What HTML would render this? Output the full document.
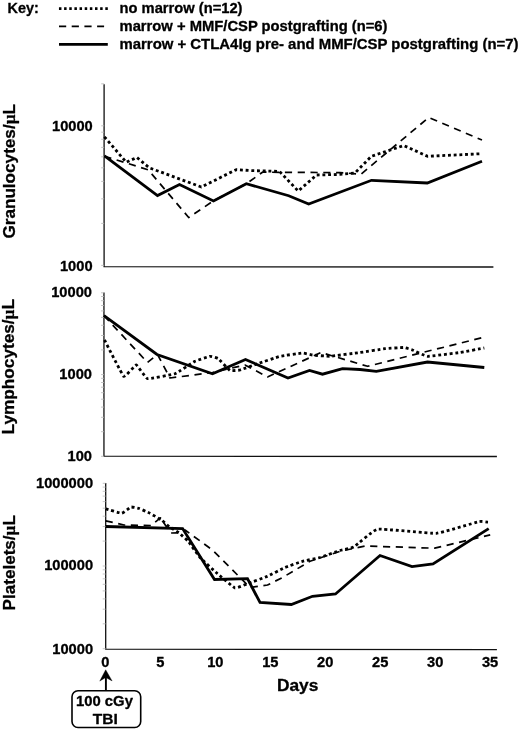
<!DOCTYPE html>
<html lang="en"><head><meta charset="utf-8"><title>Figure</title>
<style>html,body{margin:0;padding:0;background:#fff}svg{display:block;will-change:transform;opacity:.9999}text{font-family:"Liberation Sans",Arial,Helvetica,sans-serif;font-weight:bold;fill:#000;stroke:#000;stroke-width:.3px;stroke-linejoin:round}</style></head><body>
<svg width="520" height="730" viewBox="0 0 520 730" role="img" aria-label="Granulocyte, lymphocyte and platelet counts over days after 100 cGy TBI">
<rect width="520" height="730" fill="#fff"/>
<g id="legend">
<text x="7.5" y="13" font-size="14.2" textLength="31.3" lengthAdjust="spacingAndGlyphs">Key:</text>
<path d="M58.95,8.65 H107.9" fill="none" stroke="#000" stroke-width="2.7" stroke-dasharray="2.5 2.65"/>
<path d="M59,26.3 H104.1" fill="none" stroke="#000" stroke-width="1.8" stroke-dasharray="7.2 5.5"/>
<path d="M59,44.3 H107.8" fill="none" stroke="#000" stroke-width="2.8"/>
<text x="119.5" y="13" font-size="14.2" textLength="123" lengthAdjust="spacingAndGlyphs">no marrow (n=12)</text>
<text x="119.5" y="30.6" font-size="14.2" textLength="268" lengthAdjust="spacingAndGlyphs">marrow + MMF/CSP postgrafting (n=6)</text>
<text x="119.5" y="48.8" font-size="14.2" textLength="399" lengthAdjust="spacingAndGlyphs">marrow + CTLA4Ig pre- and MMF/CSP postgrafting (n=7)</text>
</g>
<g id="axes">
<path d="M104.1,84.2 V266.7 L493.4,267.0" fill="none" stroke="#111" stroke-width="1.3"/>
<path d="M103.95,292.6 V456.15 L496.9,456.5" fill="none" stroke="#111" stroke-width="1.3"/>
<path d="M105.7,483.0 V649.1 L496.9,649.7" fill="none" stroke="#111" stroke-width="1.3"/>
<path d="M101.2,125.8 H104.2 M101.2,83.8 H104.2 M101.2,265.4 H104.2 M101.2,223.4 H104.2 M101.2,198.8 H104.2 M101.2,181.4 H104.2 M101.2,167.8 H104.2 M101.2,156.8 H104.2 M101.2,147.4 H104.2 M101.2,139.3 H104.2 M101.2,132.2 H104.2" stroke="#b5b5b5" stroke-width="0.8" fill="none"/>
<path d="M101.0,292.8 H104.0 M101.0,374.6 H104.0 M101.0,349.9 H104.0 M101.0,335.5 H104.0 M101.0,325.3 H104.0 M101.0,317.4 H104.0 M101.0,310.9 H104.0 M101.0,305.5 H104.0 M101.0,300.7 H104.0 M101.0,296.5 H104.0 M101.0,456.3 H104.0 M101.0,431.7 H104.0 M101.0,417.3 H104.0 M101.0,407.1 H104.0 M101.0,399.2 H104.0 M101.0,392.7 H104.0 M101.0,387.2 H104.0 M101.0,382.5 H104.0 M101.0,378.3 H104.0" stroke="#b5b5b5" stroke-width="0.8" fill="none"/>
<path d="M102.7,483.3 H105.7 M102.7,566.0 H105.7 M102.7,541.1 H105.7 M102.7,526.5 H105.7 M102.7,516.2 H105.7 M102.7,508.2 H105.7 M102.7,501.6 H105.7 M102.7,496.1 H105.7 M102.7,491.3 H105.7 M102.7,487.1 H105.7 M102.7,648.7 H105.7 M102.7,623.8 H105.7 M102.7,609.2 H105.7 M102.7,598.9 H105.7 M102.7,590.9 H105.7 M102.7,584.3 H105.7 M102.7,578.8 H105.7 M102.7,574.0 H105.7 M102.7,569.8 H105.7" stroke="#b5b5b5" stroke-width="0.8" fill="none"/>
</g>
<g id="y-tick-labels">
<text x="52.00" y="130.8" font-size="14.2" textLength="40.75" lengthAdjust="spacingAndGlyphs">10000</text>
<text x="59.95" y="270.8" font-size="14.2" textLength="32.60" lengthAdjust="spacingAndGlyphs">1000</text>
<text x="51.20" y="296.6" font-size="14.2" textLength="40.75" lengthAdjust="spacingAndGlyphs">10000</text>
<text x="59.35" y="378.5" font-size="14.2" textLength="32.60" lengthAdjust="spacingAndGlyphs">1000</text>
<text x="67.50" y="460.5" font-size="14.2" textLength="24.45" lengthAdjust="spacingAndGlyphs">100</text>
<text x="36.00" y="487.6" font-size="14.2" textLength="57.05" lengthAdjust="spacingAndGlyphs">1000000</text>
<text x="44.15" y="570.4" font-size="14.2" textLength="48.90" lengthAdjust="spacingAndGlyphs">100000</text>
<text x="52.30" y="653.9" font-size="14.2" textLength="40.75" lengthAdjust="spacingAndGlyphs">10000</text>
</g>
<g id="y-axis-titles">
<text transform="translate(15.3,238.6) rotate(-90)" font-size="17" textLength="134.6" lengthAdjust="spacingAndGlyphs">Granulocytes/<tspan font-weight="bold" font-family="'Liberation Serif','DejaVu Serif',serif">µ</tspan>L</text>
<text transform="translate(14.1,434.4) rotate(-90)" font-size="17" textLength="135.4" lengthAdjust="spacingAndGlyphs">Lymphocytes/<tspan font-weight="bold" font-family="'Liberation Serif','DejaVu Serif',serif">µ</tspan>L</text>
<text transform="translate(14.9,610.4) rotate(-90)" font-size="17" textLength="95.3" lengthAdjust="spacingAndGlyphs">Platelets/<tspan font-weight="bold" font-family="'Liberation Serif','DejaVu Serif',serif">µ</tspan>L</text>
</g>
<g id="panel-granulocytes">
<path d="M104.40,136.80 L126.30,162.30 L136.80,157.40 L149.30,167.80 L201.30,187.00 L236.20,169.70 L252.00,170.60 L279.50,171.40 L298.20,191.00 L316.50,175.00 L340.00,174.40 L355.00,173.00 L371.30,156.30 L403.70,145.50 L427.50,156.30 L482.00,153.70" fill="none" stroke="#000" stroke-width="2.8" stroke-dasharray="2.9 2.8" stroke-linejoin="round"/>
<path d="M104.40,156.20 L148.20,169.80 L188.70,217.50 L213.70,200.70 L246.00,184.00 L262.50,172.20 L340.00,172.60 L361.00,174.20 L428.70,117.50 L482.00,140.00" fill="none" stroke="#000" stroke-width="1.7" stroke-dasharray="7.2 5.6" stroke-linejoin="round"/>
<path d="M104.50,155.80 L157.50,195.50 L179.50,184.50 L213.50,201.00 L246.30,183.70 L288.70,195.70 L308.70,204.00 L371.50,180.30 L427.30,183.00 L482.00,161.30" fill="none" stroke="#000" stroke-width="2.8" stroke-linejoin="miter" stroke-linecap="butt"/>
</g>
<g id="panel-lymphocytes">
<path d="M104.50,340.00 C105.27,341.45 122.43,375.30 123.70,376.30 C124.97,377.30 135.35,364.90 136.30,365.00 C137.25,365.10 145.95,378.35 147.50,378.70 C149.05,379.05 173.10,374.40 175.00,373.70 C176.90,373.00 193.60,362.00 195.00,361.30 C196.40,360.60 209.08,356.41 210.00,356.30 C210.92,356.19 217.20,357.93 218.00,358.50 C218.80,359.07 229.12,370.04 230.00,370.50 C230.88,370.96 238.90,370.27 240.00,370.00 C241.10,369.73 255.90,364.25 257.50,363.70 C259.10,363.15 278.20,356.73 280.00,356.30 C281.80,355.87 301.20,353.05 302.50,353.00 C303.80,352.95 311.40,354.87 312.50,355.00 C313.60,355.13 328.10,356.40 330.00,356.30 C331.90,356.20 357.80,352.80 360.00,352.50 C362.20,352.20 383.25,348.90 385.00,348.70 C386.75,348.50 402.60,347.45 403.70,347.50 C404.80,347.55 411.55,349.65 412.50,350.00 C413.45,350.35 425.60,356.20 427.50,356.30 C429.40,356.40 457.73,352.83 460.00,352.50 C462.27,352.17 483.33,348.18 484.30,348.00" fill="none" stroke="#000" stroke-width="2.8" stroke-dasharray="2.9 2.8" stroke-linejoin="round"/>
<path d="M104.00,315.70 L147.50,362.50 L157.50,354.50 L170.00,378.00 L212.50,372.50 L245.00,365.00 L267.50,377.00 L321.00,352.50 L367.50,366.30 L427.50,351.30 L485.00,337.00" fill="none" stroke="#000" stroke-width="1.7" stroke-dasharray="7.2 5.6" stroke-linejoin="round"/>
<path d="M104.00,315.70 L157.00,354.50 L212.50,373.70 L245.50,359.50 L288.00,378.00 L309.50,370.50 L322.50,374.20 L342.50,368.70 L360.00,369.50 L376.30,371.30 L427.50,362.00 L484.30,367.50" fill="none" stroke="#000" stroke-width="2.8" stroke-linejoin="miter" stroke-linecap="butt"/>
</g>
<g id="panel-platelets">
<path d="M105.70,508.80 C106.50,509.02 120.53,513.29 121.80,513.20 C123.06,513.11 130.12,507.24 131.00,507.00 C131.88,506.76 138.36,508.19 139.30,508.50 C140.25,508.81 148.79,512.72 149.90,513.30 C151.01,513.88 160.53,519.33 161.50,520.00 C162.47,520.67 168.33,526.07 169.20,526.70 C170.06,527.34 177.84,531.96 178.80,532.70 C179.76,533.44 187.34,540.26 188.40,541.50 C189.46,542.74 198.54,555.89 200.00,557.50 C201.46,559.11 215.75,572.18 217.50,573.70 C219.25,575.23 233.50,587.50 235.00,588.00 C236.50,588.50 245.88,584.29 247.50,583.70 C249.12,583.12 265.62,577.11 267.50,576.30 C269.38,575.49 283.25,568.25 285.00,567.50 C286.75,566.75 300.75,561.80 302.50,561.30 C304.25,560.80 318.12,558.04 320.00,557.50 C321.88,556.96 338.31,551.02 340.00,550.50 C341.69,549.98 351.92,548.07 353.80,547.00 C355.68,545.93 373.48,529.88 377.60,529.20 C381.73,528.52 431.23,533.68 436.30,533.30 C441.37,532.92 476.42,522.15 479.00,521.60 C481.58,521.05 487.55,522.17 488.00,522.20" fill="none" stroke="#000" stroke-width="2.8" stroke-dasharray="2.9 2.8" stroke-linejoin="round"/>
<path d="M105.70,520.80 L124.00,525.00 L151.00,525.50 L160.50,517.80 L170.50,533.00 L180.00,532.80 L185.00,530.00 L212.50,550.00 L230.00,567.50 L250.00,587.50 L267.50,585.00 L282.50,577.50 L310.00,561.30 L340.00,551.30 L364.90,546.00 L434.70,548.20 L490.20,534.90" fill="none" stroke="#000" stroke-width="1.7" stroke-dasharray="7.2 5.6" stroke-linejoin="round"/>
<path d="M105.70,526.50 L182.60,528.60 L214.50,579.50 L247.50,578.70 L260.00,602.50 L291.30,604.50 L312.50,596.30 L335.50,594.00 L380.00,555.50 L412.00,566.60 L433.00,564.00 L488.70,528.60" fill="none" stroke="#000" stroke-width="2.8" stroke-linejoin="miter" stroke-linecap="butt"/>
</g>
<g id="x-axis-labels">
<text x="101.38" y="667.4" font-size="14.2" textLength="8.15" lengthAdjust="spacingAndGlyphs">0</text>
<text x="156.33" y="667.4" font-size="14.2" textLength="8.15" lengthAdjust="spacingAndGlyphs">5</text>
<text x="207.20" y="667.4" font-size="14.2" textLength="16.30" lengthAdjust="spacingAndGlyphs">10</text>
<text x="262.15" y="667.4" font-size="14.2" textLength="16.30" lengthAdjust="spacingAndGlyphs">15</text>
<text x="317.10" y="667.4" font-size="14.2" textLength="16.30" lengthAdjust="spacingAndGlyphs">20</text>
<text x="372.05" y="667.4" font-size="14.2" textLength="16.30" lengthAdjust="spacingAndGlyphs">25</text>
<text x="427.00" y="667.4" font-size="14.2" textLength="16.30" lengthAdjust="spacingAndGlyphs">30</text>
<text x="481.95" y="667.4" font-size="14.2" textLength="16.30" lengthAdjust="spacingAndGlyphs">35</text>
<text x="276.9" y="690.5" font-size="17" textLength="41.4" lengthAdjust="spacingAndGlyphs">Days</text>
</g>
<g id="tbi-annotation">
<path d="M105.9,690.8 V676.5" fill="none" stroke="#000" stroke-width="1.9"/>
<path d="M105.7,669.8 L112.1,680.9 L105.8,677.4 L99.8,681.1 Z" fill="#000" stroke="#000" stroke-width="0.4" stroke-linejoin="miter"/>
<rect x="72" y="690.8" width="68.7" height="36.7" rx="6" ry="6" fill="#fff" stroke="#000" stroke-width="1.6"/>
<text x="76.0" y="705.9" font-size="14.2" textLength="56.9" lengthAdjust="spacingAndGlyphs">100 cGy</text>
<text x="92.8" y="723.9" font-size="14.2" textLength="25.0" lengthAdjust="spacingAndGlyphs">TBI</text>
</g>
</svg></body></html>
